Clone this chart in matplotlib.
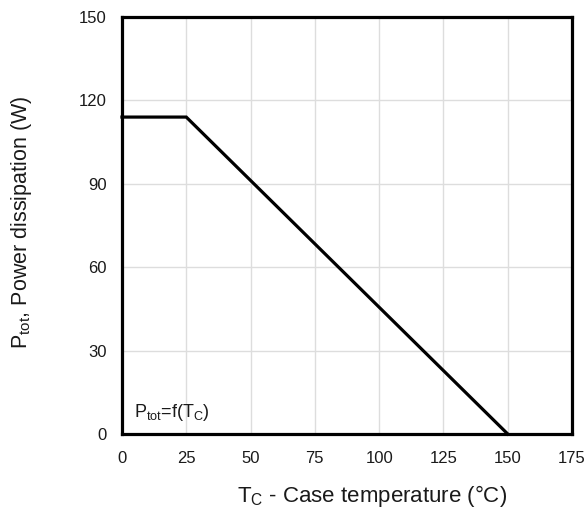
import matplotlib

matplotlib.use("Agg")
import matplotlib.pyplot as plt

# Derating curve Ptot = f(Tc)
tc_points = [0, 25, 150]
ptot_points = [114, 114, 0]

x_ticks = [0, 25, 50, 75, 100, 125, 150, 175]
y_ticks = [0, 30, 60, 90, 120, 150]

plt.rcParams["font.family"] = ["Liberation Sans", "DejaVu Sans"]
text_col = "#1a1a1a"

fig = plt.figure(figsize=(5.87, 5.15), dpi=100)
ax = fig.add_axes([0.2078, 0.1573, 0.7667, 0.8097])

ax.plot(tc_points, ptot_points, color="black", lw=2.3, solid_joinstyle="miter",
        clip_on=False, zorder=3)

ax.set_xlim(0, 175)
ax.set_ylim(0, 150)
ax.set_xticks(x_ticks)
ax.set_yticks(y_ticks)
ax.grid(True, color="#dddddd", lw=1.0)
ax.set_axisbelow(True)
for sp in ax.spines.values():
    sp.set_linewidth(2.3)
    sp.set_color("black")
ax.tick_params(length=0, labelsize=12, labelcolor=text_col)
ax.tick_params(axis="y", pad=11)
ax.tick_params(axis="x", pad=12)

ax.set_xlabel(r"T$_{\mathregular{C}}$ - Case temperature (°C)", fontsize=16,
              color=text_col, va="center")
ax.xaxis.set_label_coords(0.555, -0.149)
ax.set_ylabel(r"P$_{\mathregular{tot}}$, Power dissipation (W)", fontsize=15.5,
              color=text_col, va="center")
ax.yaxis.set_label_coords(-0.224, 0.508)
ax.text(4.5, 6, r"P$_{\mathregular{tot}}$=f(T$_{\mathregular{C}}$)", fontsize=13,
        color=text_col)

fig.savefig("out.png", dpi=100)
